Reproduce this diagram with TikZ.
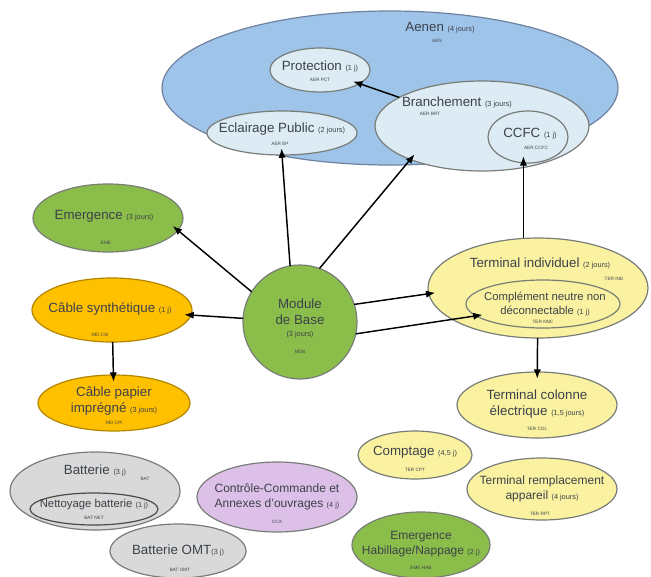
\documentclass[tikz,border=0pt]{standalone}
\usepackage{fontspec}
\setmainfont{Liberation Sans}
\usetikzlibrary{shapes.geometric,arrows.meta}
\definecolor{aenfill}{RGB}{158,196,234}
\definecolor{aenline}{RGB}{110,130,160}
\definecolor{lblue}{RGB}{221,235,245}
\definecolor{grn}{RGB}{138,189,74}
\definecolor{gold}{RGB}{255,192,0}
\definecolor{lyel}{RGB}{250,242,160}
\definecolor{gry}{RGB}{217,217,217}
\definecolor{lav}{RGB}{221,192,232}
\definecolor{txt}{RGB}{60,66,74}
\definecolor{edge}{RGB}{120,125,120}
\newcommand\smj[1]{{\fontsize{5.5}{6}\selectfont #1}}
\begin{document}
\begin{tikzpicture}[x=0.75pt,y=-0.75pt,
  ell/.style={ellipse, draw=edge, line width=0.9pt, inner sep=0pt, outer sep=0pt},
  sz/.style 2 args={minimum width=#1*1.5pt, minimum height=#2*1.5pt},
  lab/.style={inner sep=0pt, text=txt, align=center, font=\fontsize{10}{12}\selectfont},
  code/.style={inner sep=0pt, text=txt, font=\fontsize{3.5}{4}\selectfont},
  arr/.style={-{Latex[length=7pt,width=5.5pt]}, line width=1.1pt, black, shorten >=-5pt}]
\useasboundingbox (0,0) rectangle (651,576);
% Aenen group
\node[ell, fill=aenfill, draw=aenline, sz={228}{77}] (aen) at (390,88) {};
\node[lab] (aenT) at (440,28) {Aenen \smj{(4 jours)}};
\node[code] (aenC) at (437,41) {AEN};
\node[ell, fill=lblue, sz={50}{22}] (pct) at (320,70) {};
\node[lab] (pctT) at (320,66) {Protection \smj{(1 j)}};
\node[code] (pctC) at (320,80) {AER PCT};
\node[ell, fill=lblue, sz={75}{22}] (ep) at (282,133) {};
\node[lab] (epT) at (282,129) {Eclairage Public \smj{(2 jours)}};
\node[code] (epC) at (280,144) {AER EP};
\node[ell, fill=lblue, sz={107}{45}] (br) at (482,126) {};
\node[lab] (brT) at (457,102) {Branchement \smj{(3 jours)}};
\node[code] (brC) at (430,114) {AER BRT};
\node[ell, fill=lblue, sz={40}{26}] (ccfc) at (528,137) {};
\node[lab] (ccfcT) at (530,134) {CCFC \smj{(1 j)}};
\node[code] (ccfcC) at (536,148) {AER CCFC};
% left
\node[ell, fill=grn, sz={75}{34}] (em) at (108,218) {};
\node[lab] (emT) at (104,216) {Emergence \smj{(3 jours)}};
\node[code] (emC) at (106,243) {EME};
\node[ell, fill=gold, draw=gold!70!black, sz={80}{32}] (cs) at (112,310) {};
\node[lab] (csT) at (110,309) {Câble synthétique \smj{(1 j)}};
\node[code] (csC) at (100,335) {REI CSI};
\node[ell, fill=gold, draw=gold!70!black, sz={76}{28}] (cp) at (114,403) {};
\node[lab] (cpT) at (114,401) {Câble papier\\imprégné \smj{(3 jours)}};
\node[code] (cpC) at (114,423) {REI CPI};
% centre
\node[ell, fill=grn, sz={57}{57}] (mdb) at (300,322) {};
\node[lab] (mdbT) at (300,318) {Module\\de Base\\[-3pt]\smj{(3 jours)}};
\node[code] (mdbC) at (300,352) {MDB};
% right
\node[ell, fill=lyel, sz={110}{50}] (ti) at (538,288) {};
\node[lab] (tiT) at (540,263) {Terminal individuel \smj{(2 jours)}};
\node[code] (tiC) at (614,279) {TER IND};
\node[ell, fill=lyel, sz={77}{24}] (cn) at (543,304) {};
\node[lab, font=\fontsize{8.5}{10}\selectfont] (cnT) at (545,304) {Complément neutre non\\déconnectable \smj{(1 j)}};
\node[code] (cnC) at (543,322) {TER NNC};
\node[ell, fill=lyel, sz={80}{33}] (tc) at (537,405) {};
\node[lab] (tcT) at (537,404) {Terminal colonne\\électrique \smj{(1,5 jours)}};
\node[code] (tcC) at (537,429) {TER COL};
\node[ell, fill=lyel, sz={57}{24}] (cpt) at (415,455) {};
\node[lab] (cptT) at (415,452) {Comptage \smj{(4,5 j)}};
\node[code] (cptC) at (415,470) {TER CPT};
\node[ell, fill=lyel, sz={75}{31}] (tr) at (542,489) {};
\node[lab, font=\fontsize{9}{11}\selectfont] (trT) at (542,489) {Terminal remplacement\\appareil \smj{(4 jours)}};
\node[code] (trC) at (540,514) {TER RPT};
% bottom
\node[ell, fill=gry, sz={85}{39}] (bat) at (95,491) {};
\node[lab] (batT) at (95,470) {Batterie \smj{(3 j)}};
\node[code] (batC) at (145,479) {BAT};
\node[ell, fill=gry, draw=edge!60!black, sz={64}{16}] (net) at (94,509) {};
\node[lab, font=\fontsize{8.5}{10}\selectfont] (netT) at (94,505) {Nettoyage batterie \smj{(1 j)}};
\node[code] (netC) at (94,518) {BAT NET};
\node[ell, fill=gry, sz={68}{27}] (omt) at (178,551) {};
\node[lab] (omtT) at (178,550) {Batterie OMT\smj{(3 j)}};
\node[code] (omtC) at (180,570) {BAT OMT};
\node[ell, fill=lav, sz={80}{35}] (cca) at (277,497) {};
\node[lab, font=\fontsize{9}{11}\selectfont] (ccaT) at (277,497) {Contrôle-Commande et\\Annexes d'ouvrages \smj{(4 j)}};
\node[code] (ccaC) at (277,522) {CCA};
\node[ell, fill=grn, sz={69}{33}] (emh) at (421,545) {};
\node[lab, font=\fontsize{9}{11}\selectfont] (emhT) at (421,544) {Emergence\\Habillage/Nappage \smj{(2 j)}};
\node[code] (emhC) at (421,568) {EME HAB};
% connectors
\draw[arr] (mdb.148) -- (em.350);
\draw[arr] (mdb) -- (cs);
\draw[arr] (mdb.100) -- (ep.south);
\draw[arr] (mdb.70) -- (br.205);
\draw[arr] (mdb.18) -- (ti.183);
\draw[arr] (mdb.-12) -- (cn.190);
\draw[arr] (cs) -- (cp);
\draw[arr] (br) -- (pct);
\draw[arr] (ti.north -| ccfc.260) -- (ccfc.260);
\draw[arr] (ti) -- (tc);
\end{tikzpicture}
\end{document}
